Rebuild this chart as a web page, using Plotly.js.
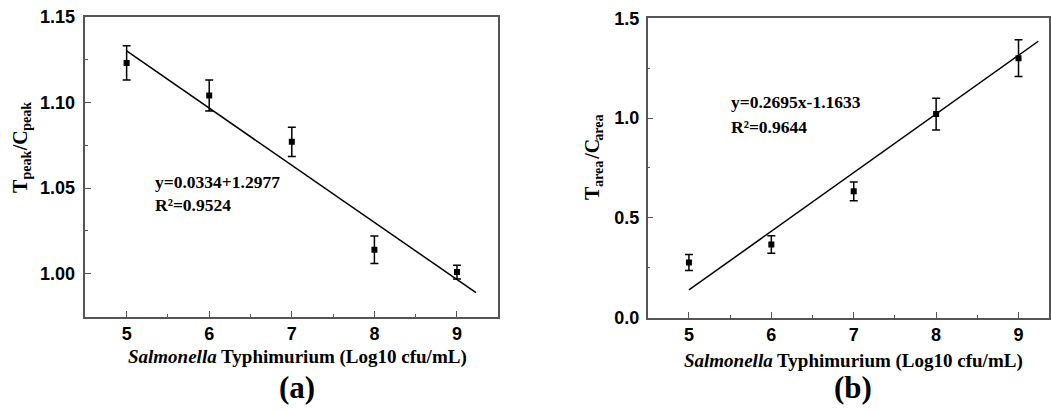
<!DOCTYPE html>
<html>
<head>
<meta charset="utf-8">
<script src="https://cdn.plot.ly/plotly-3.0.1.min.js"></script>
<style>html,body{margin:0;padding:0;background:#fff;}#chart{width:1051px;height:410px;}</style>
</head>
<body>
<div id="chart"></div>
<script>
// Panel (a)
const concA = [5, 6, 7, 8, 9];
const peakRatio = [1.123, 1.104, 1.077, 1.014, 1.001];
const peakErr = [0.010, 0.009, 0.0085, 0.008, 0.004];
const fitAX = [5, 9.23];
const fitAY = [1.130, 0.989];
// Panel (b)
const concB = [5, 6, 7, 8, 9];
const areaRatio = [0.277, 0.367, 0.633, 1.020, 1.300];
const areaErr = [0.040, 0.044, 0.047, 0.080, 0.092];
const fitBX = [5, 9.24];
const fitBY = [0.139, 1.385];

const serif = 'Liberation Serif';
const sans = 'Liberation Sans';
const frame = '#555555';

function markerTrace(x, y, e, xa, ya) {
  return {
    x: x, y: y, type: 'scatter', mode: 'markers', xaxis: xa, yaxis: ya,
    marker: {symbol: 'square', size: 6, color: '#000'},
    error_y: {type: 'data', array: e, visible: true, color: '#000', thickness: 1.5, width: 4},
    showlegend: false, hoverinfo: 'x+y'
  };
}
function lineTrace(x, y, xa, ya) {
  return {x: x, y: y, type: 'scatter', mode: 'lines', xaxis: xa, yaxis: ya,
    line: {color: '#000', width: 1.5}, showlegend: false};
}

const traces = [
  lineTrace(fitAX, fitAY, 'x', 'y'),
  markerTrace(concA, peakRatio, peakErr, 'x', 'y'),
  lineTrace(fitBX, fitBY, 'x2', 'y2'),
  markerTrace(concB, areaRatio, areaErr, 'x2', 'y2')
];

function axisBase() {
  return {
    showline: true, mirror: true, linecolor: frame, linewidth: 1.5,
    ticks: 'inside', ticklen: 6, tickwidth: 1.2, tickcolor: frame,
    showgrid: false, zeroline: false,
    tickfont: {family: sans, size: 18, weight: 'bold', color: '#000'},
    fixedrange: true
  };
}

const xa1 = Object.assign(axisBase(), {domain: [0.0812, 0.4741], range: [4.5, 9.5], anchor: 'y',
  tickmode: 'linear', tick0: 5, dtick: 1, minor: {ticks: 'inside', ticklen: 3, dtick: 0.5, tick0: 5, tickcolor: frame}});
const ya1 = Object.assign(axisBase(), {domain: [0.2276, 0.9593], range: [0.975, 1.15], anchor: 'x',
  tickmode: 'linear', tick0: 1.0, dtick: 0.05, tickformat: '.2f', ticklabelstandoff: 5,
  minor: {ticks: 'inside', ticklen: 3, dtick: 0.025, tick0: 1.0, tickcolor: frame}});
const xa2 = Object.assign(axisBase(), {domain: [0.6163, 0.9981], range: [4.5, 9.37], anchor: 'y2',
  tickmode: 'linear', tick0: 5, dtick: 1, minor: {ticks: 'inside', ticklen: 3, dtick: 0.5, tick0: 5, tickcolor: frame}});
const ya2 = Object.assign(axisBase(), {domain: [0.2251, 0.9554], range: [0, 1.5], anchor: 'x2',
  tickmode: 'linear', tick0: 0, dtick: 0.5, tickformat: '.1f', ticklabelstandoff: 3,
  minor: {ticks: 'inside', ticklen: 3, dtick: 0.25, tick0: 0, tickcolor: frame}});

function ann(text, x, y, size, opts) {
  return Object.assign({text: text, x: x, y: y, xref: 'paper', yref: 'paper',
    showarrow: false, xanchor: 'center', yanchor: 'middle',
    font: {family: serif, size: size, color: '#000', weight: 'bold'}}, opts || {});
}
// rotated axis-title pieces (main letters and subscripts), stacked bottom-to-top
function rot(text, x, y, size) {
  return ann(text, x, y, size, {textangle: -90, yanchor: 'bottom', borderpad: 0, borderwidth: 0});
}

const annotations = [
  ann('y=0.0334+1.2977', 0.1453, 0.5568, 17.5, {xanchor: 'left'}),
  ann('R²=0.9524', 0.1453, 0.500, 17.5, {xanchor: 'left'}),
  ann('y=0.2695x-1.1633', 0.6939, 0.7505, 17.5, {xanchor: 'left'}),
  ann('R²=0.9644', 0.6939, 0.691, 17.5, {xanchor: 'left'}),
  // T_peak / C_peak
  rot('T', 0.0190, 0.5293, 20),
  rot('peak', 0.0250, 0.5617, 14),
  rot('/C', 0.0190, 0.6320, 20),
  rot('peak', 0.0250, 0.6807, 14),
  // T_area / C_area
  rot('T', 0.5633, 0.5122, 20),
  rot('area', 0.5693, 0.5446, 14),
  rot('/C', 0.5633, 0.6090, 20),
  rot('area', 0.5693, 0.6578, 14),
  ann('<i>Salmonella</i> Typhimurium (Log10 cfu/mL)', 0.2826, 0.1293, 19),
  ann('<i>Salmonella</i> Typhimurium (Log10 cfu/mL)', 0.8124, 0.1195, 19),
  ann('(a)', 0.2823, 0.0537, 31),
  ann('(b)', 0.8119, 0.0537, 31)
];

const layout = {
  width: 1051, height: 410,
  margin: {l: 0, r: 0, t: 0, b: 0},
  paper_bgcolor: '#fff', plot_bgcolor: '#fff',
  xaxis: xa1, yaxis: ya1, xaxis2: xa2, yaxis2: ya2,
  annotations: annotations,
  showlegend: false
};

Plotly.newPlot('chart', traces, layout, {displayModeBar: false});
</script>
</body>
</html>
